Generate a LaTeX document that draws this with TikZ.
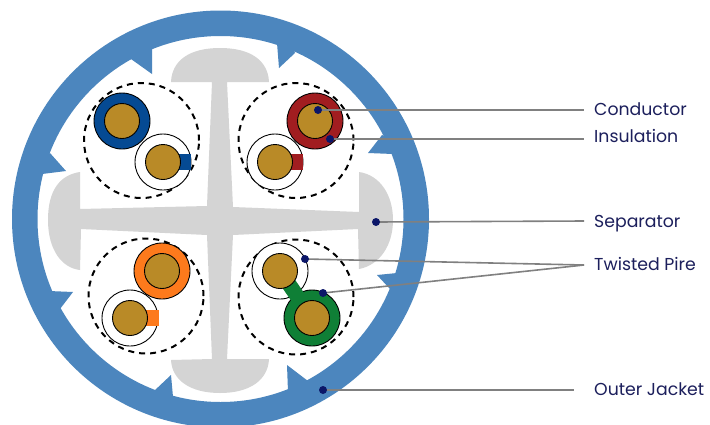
\documentclass[tikz,border=0pt]{standalone}
\usepackage{fontspec}
\setmainfont{Poppins}
\definecolor{ringblue}{HTML}{4C86BE}
\definecolor{sepgrey}{HTML}{D4D4D4}
\definecolor{copper}{HTML}{B98A27}
\definecolor{wblue}{HTML}{054A93}
\definecolor{wred}{HTML}{A11D20}
\definecolor{worange}{HTML}{FD7A1C}
\definecolor{wgreen}{HTML}{0F7F36}
\definecolor{navy}{HTML}{0B1668}
\definecolor{leadgrey}{HTML}{808080}
\definecolor{labelblue}{HTML}{1C1F5C}
\tikzset{
  wire/.style={circle,draw=black,line width=.9pt,minimum size=56pt,inner sep=0pt},
  core/.style={circle,draw=black,line width=.9pt,fill=copper,minimum size=35pt,inner sep=0pt},
  pairring/.style={circle,draw=black,line width=2pt,dash pattern=on 6pt off 5pt,minimum size=115pt,inner sep=0pt},
  marker/.style={circle,fill=navy,minimum size=8pt,inner sep=0pt},
  leader/.style={draw=leadgrey,line width=1.6pt},
  caption/.style={anchor=west,inner sep=0pt,text=labelblue,font=\fontsize{17.3}{20}\selectfont},
}
\begin{document}
\begin{tikzpicture}[x=1pt,y=-1pt]
\useasboundingbox (0,0) rectangle (710,424);
\clip (0,0) rectangle (710,424);
\fill[white] (0,0) rectangle (710,424);
% outer jacket
\coordinate (c) at (220.5,219);
\fill[ringblue,even odd rule] (c) circle[radius=208.5pt] (c) circle[radius=183pt];
\fill[ringblue] (131,59) -- (152,74) -- (152,49) -- (140,45) -- cycle;
\fill[ringblue] (50,153) -- (66,171) -- (42,174) -- (38,160) -- cycle;
\fill[ringblue] (277,43) -- (279,68) -- (295,53) -- (290,40) -- cycle;
\fill[ringblue] (382,135) -- (368,153) -- (393,154) -- (397,142) -- cycle;
\fill[ringblue] (397,273) -- (377,275) -- (390,289) -- (402,282) -- cycle;
\fill[ringblue] (308,381) -- (287,365) -- (288,392) -- (297,396) -- cycle;
\fill[ringblue] (154,391) -- (171,375) -- (173,397) -- (160,402) -- cycle;
\fill[ringblue] (60,309) -- (73,292) -- (49,291) -- (45,302) -- cycle;
% separator
\fill[sepgrey] (171,82) .. controls (172,60) and (190,48) .. (220,48)
  .. controls (250,48) and (268,60) .. (269,82) -- (227,82) -- (233,207) -- (359,212)
  -- (359,172) .. controls (380,175) and (393,195) .. (393,220)
  .. controls (393,245) and (380,265) .. (359,269) -- (358,229) -- (233,235) -- (227,359)
  -- (269,359) .. controls (268,380) and (250,393) .. (220,393)
  .. controls (190,393) and (172,380) .. (171,360) -- (212,359) -- (207,235) -- (81,229)
  -- (80,270) .. controls (62,268) and (48,250) .. (48,220)
  .. controls (48,190) and (60,175) .. (80,172) -- (80,209) -- (207,206) -- (212,82) -- cycle;
% pair rings
\node[pairring] (pairA) at (141.5,140.5) {};
\node[pairring] (pairB) at (296,140.5) {};
\node[pairring] (pairC) at (146,296) {};
\node[pairring] (pairD) at (296,297) {};
% top-left pair
\node[wire,fill=white] (a2) at (163,162) {};
\fill[wblue] (176,154) rectangle (191,170);
\node[wire,fill=wblue] (a1) at (122,121) {};
\node[core] (ca1) at (a1) {};
\node[core] (ca2) at (a2) {};
% top-right pair
\node[wire,fill=white] (b2) at (275,162) {};
\fill[wred] (288,154) rectangle (303,170);
\node[wire,fill=wred] (b1) at (315,121) {};
\node[core] (cb1) at (b1) {};
\node[core] (cb2) at (b2) {};
% bottom-left pair
\node[wire,fill=white] (d2) at (130,318) {};
\fill[worange] (144,310) rectangle (159,326);
\node[wire,fill=worange] (d1) at (162,271) {};
\node[core] (cd1) at (d1) {};
\node[core] (cd2) at (d2) {};
% bottom-right pair
\node[wire,fill=white] (e1) at (280,271) {};
\node[wire,fill=wgreen] (e2) at (312,318) {};
\draw[wgreen,line width=15pt] (e1.center) -- (e2.center);
\node[core] (ce1) at (e1) {};
\node[core] (ce2) at (e2) {};
% captions
\node[caption] (tCond) at (594,109) {Conductor};
\node[caption] (tIns) at (594,136) {Insulation};
\node[caption] (tSep) at (594,224) {Separator};
\node[caption] (tTw) at (594,264) {Twisted Pire};
\node[caption] (tJack) at (594,389) {Outer Jacket};
\coordinate (eCond) at (584,110);
\coordinate (eIns) at (584,139);
\coordinate (eSep) at (584,221);
\coordinate (eTw) at (584,265);
\coordinate (eJack) at (574,390);
% markers
\coordinate (mCond) at (318,110);
\coordinate (mIns) at (330,139);
\coordinate (mSep) at (376,222);
\coordinate (mTa) at (305,259);
\coordinate (mTb) at (323,293);
\coordinate (mJack) at (323,390);
\draw[leader] (mCond) -- (eCond);
\draw[leader] (mIns) -- (eIns);
\draw[leader] (mSep) -- (eSep);
\draw[leader] (mTa) -- (eTw);
\draw[leader] (mTb) -- (eTw);
\draw[leader] (mJack) -- (eJack);
\node[marker] (dCond) at (mCond) {};
\node[marker] (dIns) at (mIns) {};
\node[marker] (dSep) at (mSep) {};
\node[marker] (dTa) at (mTa) {};
\node[marker] (dTb) at (mTb) {};
\node[marker] (dJack) at (mJack) {};
\end{tikzpicture}
\end{document}
